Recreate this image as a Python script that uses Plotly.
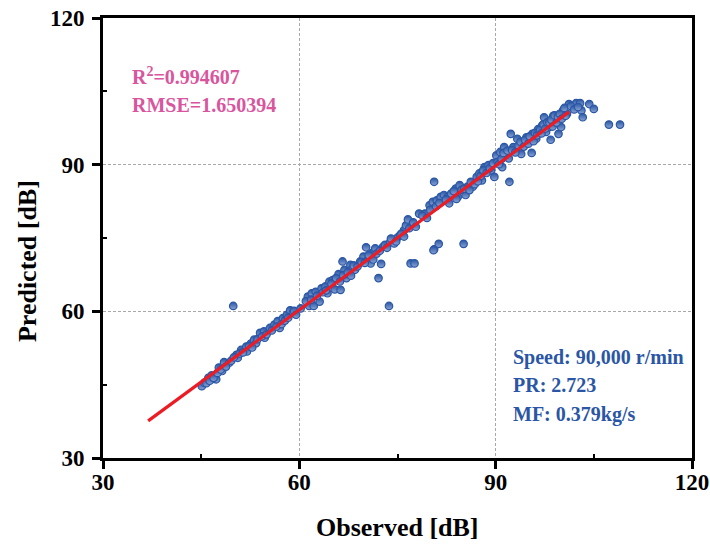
import plotly.graph_objects as go

# Observed vs predicted values
observed = [
    45.1, 45.5, 46.1, 46.6, 47.0, 47.3, 47.7, 48.2, 48.5, 49.3, 49.9, 50.4, 50.6, 51.1, 51.9, 52.0,
    52.6, 53.1, 53.4, 54.0, 54.6, 54.7, 55.5, 56.2, 56.7, 57.0, 57.5, 58.1, 58.6, 59.0,
    45.8, 46.3, 46.9, 47.5, 48.0, 48.8, 49.6, 50.0, 50.9, 51.4, 52.3, 52.8, 53.6, 54.3, 55.0, 55.8,
    56.5, 57.3, 57.8, 58.3, 59.2, 59.5,
    61.3, 61.5, 61.9, 62.2, 62.5, 63.1, 63.4, 64.0, 64.3, 64.6, 65.1, 65.4, 66.0, 66.3, 66.6, 66.9,
    67.2, 67.8, 68.1, 68.5, 69.3, 69.8, 70.2, 70.4, 70.9, 71.1, 71.6, 72.1, 72.5, 72.8, 73.1, 73.7,
    73.9, 74.5, 75.0, 75.4, 76.0, 76.3, 76.6, 77.0, 77.6,
    60.2, 61.0, 61.8, 62.7, 63.6, 64.1, 64.9, 65.6, 66.2, 66.7, 67.4, 67.9, 68.3, 68.9, 69.5, 70.0,
    70.6, 71.3, 71.8, 72.3, 73.4, 74.0, 74.8, 75.6, 76.0, 76.8, 77.4, 77.8,
    78.3, 79.2, 79.9, 80.4, 80.6, 80.6, 81.3, 81.0, 81.6, 82.1, 82.7, 83.2, 83.9, 84.2, 84.5, 85.1,
    85.4, 85.7, 86.2, 86.5, 87.1, 87.5, 87.9, 88.3, 88.9, 89.3, 89.8, 80.5,
    78.8, 79.5, 80.0, 80.9, 81.4, 82.4, 82.9, 83.6, 84.0, 84.8, 85.2, 86.0, 86.8, 87.3, 87.7, 88.1,
    88.6, 89.1, 89.6,
    90.1, 90.7, 91.0, 91.3, 91.6, 92.1, 92.3, 92.7, 93.3, 93.9, 94.1, 94.7, 95.5, 95.6, 96.2, 96.5,
    97.1, 97.4, 97.7, 98.2, 98.4, 98.8, 99.1, 99.6, 100.0, 100.3, 100.9, 101.2, 101.8, 102.3, 102.9,
    103.1, 103.3, 104.3, 105.0, 107.3, 109.0,
    90.3, 90.5, 90.9, 91.2, 91.8, 92.0, 92.5, 93.0, 93.5, 93.8, 94.3, 94.5, 95.0, 95.2, 95.8, 96.0,
    96.3, 96.8, 97.0, 97.3, 97.6, 97.9, 98.2, 98.5, 98.7, 99.0, 99.3, 99.5, 99.8, 100.1, 100.5,
    100.7, 101.5, 102.0, 102.6,
]
predicted = [
    44.7, 45.4, 46.4, 46.9, 46.2, 46.1, 48.5, 47.8, 49.6, 49.5, 61.1, 51.1, 50.5, 52.1, 52.8, 51.8,
    53.4, 54.2, 53.5, 55.6, 55.9, 54.6, 56.6, 57.3, 58.0, 56.6, 58.6, 59.3, 60.2, 59.7,
    45.3, 45.8, 46.4, 47.4, 48.1, 48.7, 49.9, 50.6, 51.4, 51.6, 52.9, 52.6, 54.3, 54.9, 55.3, 56.1,
    56.9, 57.4, 58.1, 58.7, 60.1, 59.3,
    63.0, 61.1, 63.7, 61.1, 64.0, 62.0, 64.7, 65.1, 63.7, 66.1, 66.4, 64.5, 67.6, 64.4, 70.2, 68.5,
    66.8, 69.5, 68.8, 68.5, 70.2, 71.2, 73.1, 70.5, 69.8, 71.9, 72.9, 66.8, 69.7, 73.2, 73.6, 61.1,
    74.2, 73.9, 75.1, 75.6, 76.6, 77.6, 78.8, 69.8, 69.8,
    60.6, 62.1, 62.4, 63.2, 63.9, 64.3, 65.7, 66.8, 66.1, 67.4, 68.0, 67.3, 69.4, 69.2, 70.1, 69.9,
    71.5, 70.6, 71.8, 72.4, 73.0, 74.9, 74.3, 75.9, 75.3, 77.0, 78.2, 77.3,
    80.0, 80.0, 81.7, 82.4, 86.5, 72.7, 73.8, 82.7, 83.4, 83.8, 83.4, 84.1, 85.1, 83.4, 85.8, 73.8,
    83.8, 85.5, 86.5, 85.5, 87.5, 88.2, 86.8, 89.5, 89.9, 88.8, 87.5, 72.5,
    79.6, 79.1, 80.8, 81.5, 82.2, 82.9, 82.1, 84.6, 83.0, 84.9, 85.1, 84.8, 86.0, 86.6, 87.7, 88.9,
    88.3, 89.3, 90.3,
    91.9, 92.6, 89.5, 93.6, 91.6, 86.5, 96.3, 93.6, 95.3, 92.2, 94.6, 95.6, 92.4, 96.3, 95.3, 97.3,
    98.0, 99.7, 96.7, 97.7, 95.1, 100.0, 99.0, 96.3, 97.7, 101.1, 100.4, 102.4, 101.7, 102.6, 102.6,
    101.1, 99.7, 102.4, 101.4, 98.2, 98.2,
    90.6, 90.1, 91.2, 92.4, 92.9, 91.3, 93.0, 92.5, 93.9, 94.7, 93.7, 95.1, 94.3, 95.8, 94.8, 96.5,
    96.0, 97.2, 96.4, 98.3, 97.4, 98.7, 98.6, 99.2, 97.8, 100.1, 98.6, 99.8, 100.4, 99.4, 101.6,
    100.0, 102.0, 101.3, 101.8,
]

# Fitted line end points
fit_x = [36.9, 101.2]
fit_y = [37.6, 100.8]

x_ticks = [30, 60, 90, 120]
y_ticks = [30, 60, 90, 120]

FONT = "Liberation Serif"
BLUE = "#2A56A5"
PINK = "#D9559E"

fig = go.Figure()
fig.add_trace(go.Scatter(
    x=observed, y=predicted, mode="markers",
    marker=dict(symbol="circle", size=7.5, color=BLUE,
                gradient=dict(type="vertical", color="#8AA4D4"),
                line=dict(color=BLUE, width=1.2)),
    showlegend=False, hoverinfo="skip",
))
fig.add_trace(go.Scatter(
    x=fit_x, y=fit_y, mode="lines",
    line=dict(color="#EC1C24", width=3.2),
    showlegend=False, hoverinfo="skip",
))

axis_common = dict(
    showline=True, linewidth=3, linecolor="black", mirror=True,
    ticks="outside", ticklen=8, tickwidth=3, tickcolor="black",
    showgrid=True, gridcolor="#A8A8A8", griddash="3px,2px", gridwidth=1,
    zeroline=False, automargin=False,
    tickfont=dict(family=FONT, size=23, color="black", weight="bold"),
    minor=dict(ticks="inside", ticklen=4, tickwidth=2, tickcolor="black",
               tick0=45, dtick=30, showgrid=False),
)

fig.update_xaxes(range=[30, 120], tickmode="array", tickvals=x_ticks,
                 ticktext=[str(v) for v in x_ticks], ticklabelstandoff=-7, **axis_common)
fig.update_yaxes(range=[30, 120], tickmode="array", tickvals=y_ticks,
                 ticktext=[str(v) for v in y_ticks], ticklabelstandoff=3, **axis_common)

ann_font = dict(family=FONT, size=20, weight="bold")
annotations = [
    dict(text="Observed [dB]", xref="paper", yref="paper", x=0.5, y=-0.157,
         xanchor="center", yanchor="middle", showarrow=False,
         font=dict(family=FONT, size=26, color="black", weight="bold")),
    dict(text="Predicted [dB]", xref="paper", yref="paper", x=-0.127, y=0.448,
         xanchor="center", yanchor="middle", showarrow=False, textangle=-90,
         font=dict(family=FONT, size=26, color="black", weight="bold")),
    dict(text="R<sup>2</sup>=0.994607", xref="paper", yref="paper", x=0.045, y=0.869,
         xanchor="left", yanchor="middle", showarrow=False, font=dict(color=PINK, **ann_font)),
    dict(text="RMSE=1.650394", xref="paper", yref="paper", x=0.045, y=0.802,
         xanchor="left", yanchor="middle", showarrow=False, font=dict(color=PINK, **ann_font)),
    dict(text="Speed: 90,000 r/min", xref="paper", yref="paper", x=0.693, y=0.2295,
         xanchor="left", yanchor="middle", showarrow=False, font=dict(color=BLUE, **ann_font)),
    dict(text="PR: 2.723", xref="paper", yref="paper", x=0.693, y=0.165,
         xanchor="left", yanchor="middle", showarrow=False, font=dict(color=BLUE, **ann_font)),
    dict(text="MF: 0.379kg/s", xref="paper", yref="paper", x=0.693, y=0.100,
         xanchor="left", yanchor="middle", showarrow=False, font=dict(color=BLUE, **ann_font)),
]

fig.update_layout(
    width=710, height=545,
    margin=dict(l=103, r=18, t=18, b=87),
    paper_bgcolor="white", plot_bgcolor="white",
    annotations=annotations,
    font=dict(family=FONT),
)

fig.write_html("out.html")
